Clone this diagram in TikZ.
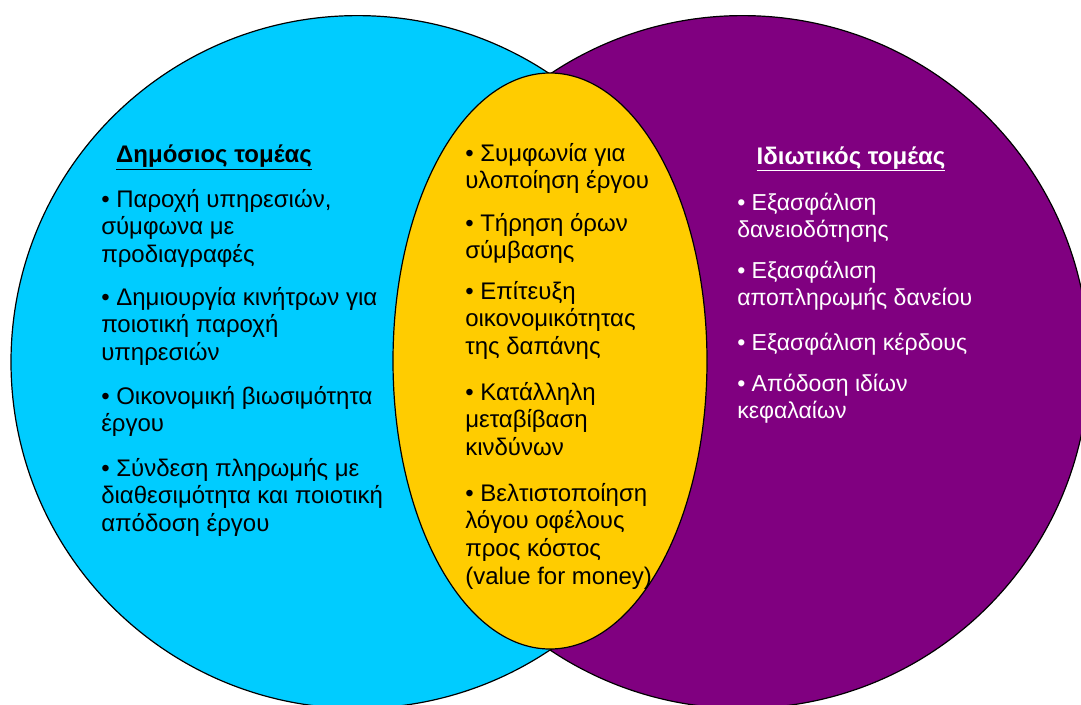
\documentclass[tikz,border=0pt]{standalone}
\usepackage{fontspec}
\setmainfont{Liberation Sans}
\usepackage{xcolor}
\usepackage{tikz}

\definecolor{publiccyan}{HTML}{00CCFF}
\definecolor{privatepurple}{HTML}{800080}
\definecolor{commonyellow}{HTML}{FFCC00}

% lines of one bullet, baseline on the first line
\newcommand{\itemlines}[1]{\begin{tabular}[t]{@{}l@{}}#1\end{tabular}}

\begin{document}
\begin{tikzpicture}[x=0.75pt, y=-0.75pt,
    sector/.style={draw=black, line width=0.9pt},
    item/.style={anchor=base west, inner sep=0pt,
      font=\fontsize{18}{20.8}\selectfont},
    privitem/.style={item, white, font=\fontsize{17.3}{20.6}\selectfont},
    title/.style={anchor=base, inner sep=0pt,
      font=\fontsize{18}{20.8}\selectfont\bfseries}]
\useasboundingbox (0,0) rectangle (1081,704);
\clip (0,0) rectangle (1081,704);
		% sectors
		\draw[sector, fill=privatepurple] (742.6,362) circle (346.4);
		\draw[sector, fill=publiccyan] (357.4,362) circle (346.4);
		\draw[sector, fill=commonyellow] (550,361) ellipse (157 and 288);
		% public sector
		\node[title] at (214,162) (pubtitle) {\underline{Δημόσιος τομέας}};
		\node[item] at (101,207) (pub1) {\itemlines{• Παροχή υπηρεσιών,\\σύμφωνα με\\προδιαγραφές}};
		\node[item] at (101,305) (pub2) {\itemlines{• Δημιουργία κινήτρων για\\ποιοτική παροχή\\υπηρεσιών}};
		\node[item] at (101,404) (pub3) {\itemlines{• Οικονομική βιωσιμότητα\\έργου}};
		\node[item] at (101,476) (pub4) {\itemlines{• Σύνδεση πληρωμής με\\διαθεσιμότητα και ποιοτική\\απόδοση έργου}};
		% common
		\node[item] at (465,161) (com1) {\itemlines{• Συμφωνία για\\υλοποίηση έργου}};
		\node[item] at (465,231) (com2) {\itemlines{• Τήρηση όρων\\σύμβασης}};
		\node[item] at (465,299) (com3) {\itemlines{• Επίτευξη\\οικονομικότητας\\της δαπάνης}};
		\node[item] at (465,400) (com4) {\itemlines{• Κατάλληλη\\μεταβίβαση\\κινδύνων}};
		\node[item] at (465,501) (com5) {\itemlines{• Βελτιστοποίηση\\λόγου οφέλους\\προς κόστος\\(value for money)}};
		% private sector
		\node[title, white] at (851,164) (privtitle) {\underline{Ιδιωτικός τομέας}};
		\node[privitem] at (737,210) (priv1) {\itemlines{• Εξασφάλιση\\δανειοδότησης}};
		\node[privitem] at (737,278) (priv2) {\itemlines{• Εξασφάλιση\\αποπληρωμής δανείου}};
		\node[privitem] at (737,350) (priv3) {\itemlines{• Εξασφάλιση κέρδους}};
		\node[privitem] at (737,391) (priv4) {\itemlines{• Απόδοση ιδίων\\κεφαλαίων}};
\end{tikzpicture}
\end{document}
